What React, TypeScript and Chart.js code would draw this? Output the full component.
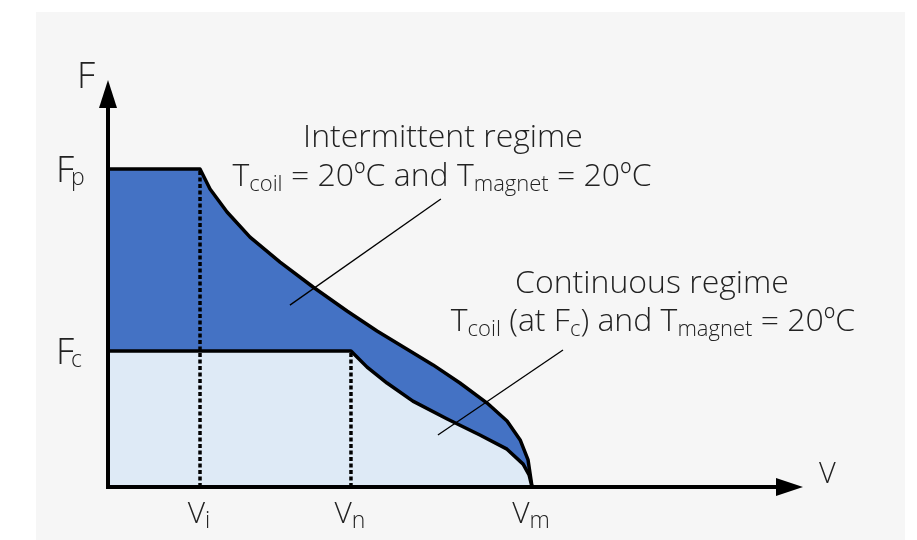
import React, { useEffect, useRef } from "react";
import { Chart, registerables } from "chart.js";

Chart.register(...registerables);

// Characteristic values (normalised units: Vm = 100, Fp = 100)
const V_I = 21.7;
const V_N = 57.3;
const V_M = 100;
const F_P = 100;
const F_C = 42.8;
const X_MAX = 163.9;
const Y_MAX = 128;

// Intermittent regime envelope
const intermittentV = [0, V_I, 24.06, 28.07, 33.49, 40.57, 48.35, 56.37, 63.44, 70.05, 76.65, 83.0, 89.4, 94.1, 97.2, 99.06, V_M];
const intermittentF = [F_P, F_P, 93.7, 86.5, 78.6, 70.75, 62.9, 55.35, 49.06, 43.7, 38.4, 32.7, 26.4, 20.75, 14.8, 8.5, 0];

// Continuous regime envelope
const continuousV = [0, V_N, 61.1, 65.8, 71.9, 80.0, 87.7, 94.1, 97.9, 99.3, V_M];
const continuousF = [F_C, F_C, 37.7, 32.7, 27.0, 21.4, 16.35, 11.9, 7.2, 3.8, 0];

// Leader lines for annotations
const interLeaderV = [78.5, 42.9];
const interLeaderF = [90.6, 57.2];
const contLeaderV = [107.3, 77.8];
const contLeaderF = [43.1, 16.35];

// Tick labels
const vTickValues = [V_I, V_N, V_M];
const vTickSubs = ["i", "n", "m"];
const fTickValues = [F_P, F_C];
const fTickSubs = ["p", "c"];

const FONT = '"Open Sans", "Noto Sans", sans-serif';
const TEXT_COLOR = "#222222";
const DARK_BLUE = "#4472c4";
const LIGHT_BLUE = "#deeaf6";

const zip = (xs: number[], ys: number[]) => xs.map((x, i) => ({ x, y: ys[i] }));

type Run = { t: string; sub?: boolean };

function drawRuns(ctx: CanvasRenderingContext2D, runs: Run[], cx: number, baseline: number, size: number, subSize: number) {
  const widths = runs.map((r) => {
    ctx.font = `300 ${r.sub ? subSize : size}px ${FONT}`;
    return ctx.measureText(r.t).width;
  });
  const total = widths.reduce((a, b) => a + b, 0);
  let x = cx - total / 2;
  runs.forEach((r, i) => {
    ctx.font = `300 ${r.sub ? subSize : size}px ${FONT}`;
    ctx.fillText(r.t, x, r.sub ? baseline + 5 : baseline);
    x += widths[i];
  });
}

const decorPlugin = {
  id: "decor",
  beforeDraw(chart: any) {
    const ctx = chart.ctx as CanvasRenderingContext2D;
    ctx.save();
    ctx.fillStyle = "#ffffff";
    ctx.fillRect(0, 0, chart.width, chart.height);
    ctx.fillStyle = "#f6f6f6";
    ctx.fillRect(36, 12, 869, chart.height - 12);
    ctx.restore();
  },
  afterDatasetsDraw(chart: any) {
    const ctx = chart.ctx as CanvasRenderingContext2D;
    const xs = chart.scales.x;
    const ys = chart.scales.y;
    const x0 = xs.getPixelForValue(0);
    const y0 = ys.getPixelForValue(0);
    const xEnd = xs.getPixelForValue(X_MAX);
    const yEnd = ys.getPixelForValue(Y_MAX);
    ctx.save();
    // axes
    ctx.strokeStyle = "#000";
    ctx.fillStyle = "#000";
    ctx.lineWidth = 4;
    ctx.lineCap = "butt";
    ctx.beginPath();
    ctx.moveTo(x0, y0 + 2);
    ctx.lineTo(x0, yEnd + 26);
    ctx.moveTo(x0 - 2, y0);
    ctx.lineTo(xEnd - 26, y0);
    ctx.stroke();
    // arrow heads
    ctx.beginPath();
    ctx.moveTo(x0, yEnd);
    ctx.lineTo(x0 - 9, yEnd + 28);
    ctx.lineTo(x0 + 9, yEnd + 28);
    ctx.closePath();
    ctx.fill();
    ctx.beginPath();
    ctx.moveTo(xEnd, y0);
    ctx.lineTo(xEnd - 27, y0 - 9);
    ctx.lineTo(xEnd - 27, y0 + 9);
    ctx.closePath();
    ctx.fill();

    // axis labels
    ctx.fillStyle = TEXT_COLOR;
    ctx.textBaseline = "alphabetic";
    ctx.textAlign = "left";
    ctx.font = `300 36px ${FONT}`;
    ctx.fillText("F", x0 - 31, yEnd + 8);
    ctx.font = `300 29px ${FONT}`;
    ctx.fillText("V", xEnd + 16, y0 - 4);

    // F ticks
    fTickValues.forEach((v, i) => {
      const py = ys.getPixelForValue(v);
      ctx.font = `300 36px ${FONT}`;
      ctx.fillText("F", x0 - 52, py + 13);
      ctx.font = `300 23px ${FONT}`;
      ctx.fillText(fTickSubs[i], x0 - 37, py + 16);
    });
    // V ticks
    vTickValues.forEach((v, i) => {
      const px = xs.getPixelForValue(v);
      drawRuns(ctx, [{ t: "V" }, { t: vTickSubs[i], sub: true }], px - 1, 523, 30, 23);
    });

    // annotation texts
    drawRuns(ctx, [{ t: "Intermittent regime" }], 443, 147, 32, 22);
    drawRuns(
      ctx,
      [{ t: "T" }, { t: "coil", sub: true }, { t: " = 20ºC and T" }, { t: "magnet", sub: true }, { t: " = 20ºC" }],
      442,
      186,
      32,
      22
    );
    drawRuns(ctx, [{ t: "Continuous regime" }], 652, 293, 32, 22);
    drawRuns(
      ctx,
      [{ t: "T" }, { t: "coil", sub: true }, { t: " (at F" }, { t: "c", sub: true }, { t: ") and T" }, { t: "magnet", sub: true }, { t: " = 20ºC" }],
      653,
      331,
      32,
      22
    );
    ctx.restore();
  },
};

export default function App() {
  const canvasRef = useRef<HTMLCanvasElement | null>(null);

  useEffect(() => {
    if (!canvasRef.current) return;
    const common = { pointRadius: 0, pointHoverRadius: 0, showLine: true, tension: 0, clip: false as any };
    const chart = new Chart(canvasRef.current, {
      type: "scatter",
      data: {
        datasets: [
          { ...common, data: [{ x: V_I, y: 0 }, { x: V_I, y: F_P }], borderColor: "#000", borderWidth: 3.5, borderDash: [4, 2.5], fill: false },
          { ...common, data: [{ x: V_N, y: 0 }, { x: V_N, y: F_C }], borderColor: "#000", borderWidth: 3.5, borderDash: [4, 2.5], fill: false },
          { ...common, data: zip(interLeaderV, interLeaderF), borderColor: "#000", borderWidth: 1.3, fill: false },
          { ...common, data: zip(contLeaderV, contLeaderF), borderColor: "#000", borderWidth: 1.3, fill: false },
          { ...common, data: zip(continuousV, continuousF), borderColor: "#000", borderWidth: 3.5, backgroundColor: LIGHT_BLUE, fill: "origin", borderJoinStyle: "round" },
          { ...common, data: zip(intermittentV, intermittentF), borderColor: "#000", borderWidth: 3.5, backgroundColor: DARK_BLUE, fill: "origin", borderJoinStyle: "round" },
        ] as any,
      },
      options: {
        animation: false,
        responsive: false,
        events: [],
        layout: { padding: { left: 108, right: 114, top: 80, bottom: 53 } },
        plugins: { legend: { display: false }, tooltip: { enabled: false } },
        scales: {
          x: { type: "linear", min: 0, max: X_MAX, display: false },
          y: { type: "linear", min: 0, max: Y_MAX, display: false },
        },
      },
      plugins: [decorPlugin],
    });
    return () => chart.destroy();
  }, []);

  return (
    <div style={{ position: "absolute", left: 0, top: 0, width: 917, height: 540 }}>
      <canvas ref={canvasRef} width={917} height={540} style={{ display: "block" }} />
    </div>
  );
}
